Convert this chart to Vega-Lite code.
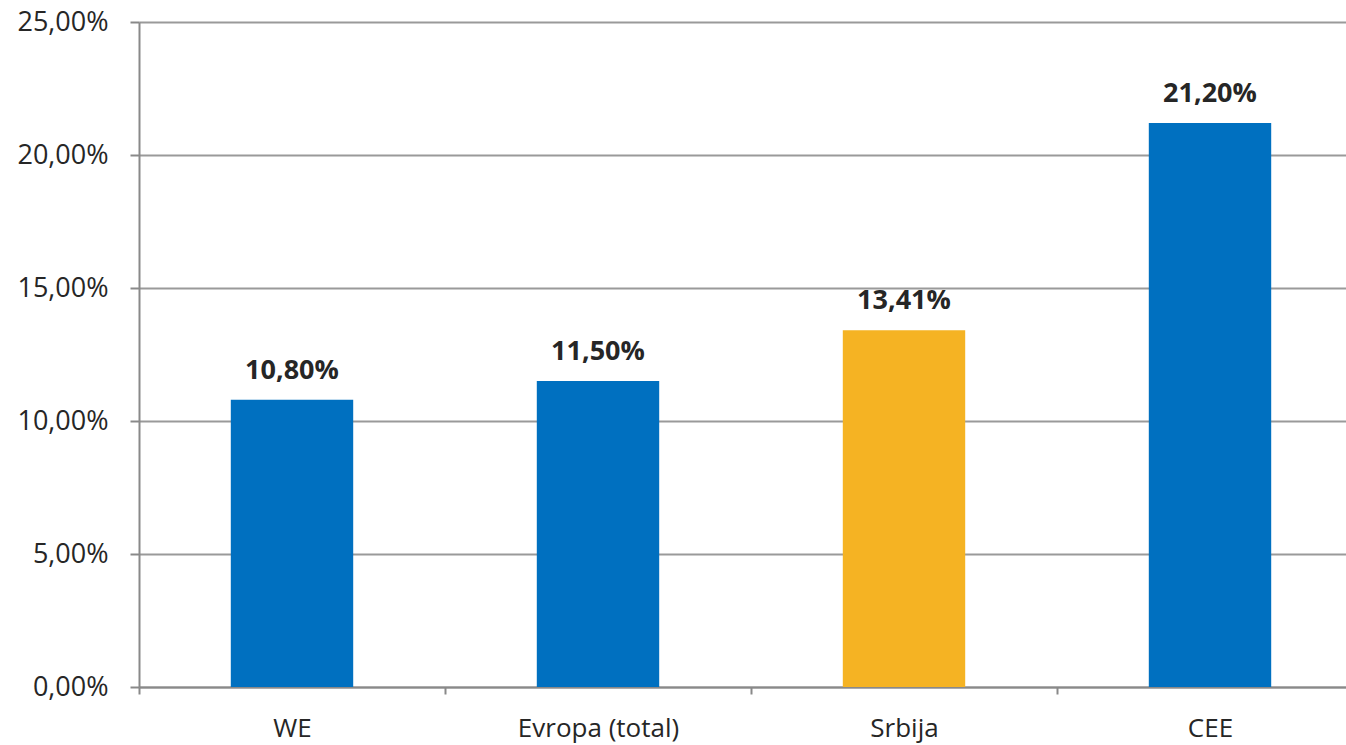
{
  "$schema": "https://vega.github.io/schema/vega-lite/v6.json",
  "autosize": {"type": "none"},
  "padding": {"left": 139, "top": 22, "right": 0, "bottom": 58},
  "width": 1207,
  "height": 665,
  "background": "white",
  "config": {
    "locale": {"number": {"decimal": ",", "thousands": ".", "grouping": [3], "currency": ["", ""]}},
    "view": {"stroke": null},
    "font": "Open Sans"
  },
  "data": {
    "values": [
      {"region": "WE", "value": 0.108, "highlight": "no"},
      {"region": "Evropa (total)", "value": 0.115, "highlight": "no"},
      {"region": "Srbija", "value": 0.1341, "highlight": "yes"},
      {"region": "CEE", "value": 0.212, "highlight": "no"}
    ]
  },
  "encoding": {
    "x": {
      "field": "region",
      "type": "nominal",
      "sort": null,
      "scale": {"range": [0, 1224], "paddingInner": 0, "paddingOuter": 0},
      "axis": {
        "title": null,
        "labelAngle": 0,
        "labelFont": "Open Sans",
        "labelFontSize": 26,
        "labelColor": "#262626",
        "labelPadding": 21,
        "domainColor": "#898989",
        "domainWidth": 2,
        "tickColor": "#898989",
        "tickWidth": 2,
        "tickSize": 7,
        "tickBand": "extent",
        "grid": false
      }
    },
    "y": {
      "field": "value",
      "type": "quantitative",
      "scale": {"domain": [0, 0.25], "nice": false},
      "axis": {
        "title": null,
        "format": ".2%",
        "values": [0, 0.05, 0.1, 0.15, 0.2, 0.25],
        "labelFont": "Open Sans",
        "labelFontSize": 27,
        "labelColor": "#262626",
        "labelPadding": 22,
        "domainColor": "#898989",
        "domainWidth": 2,
        "tickColor": "#898989",
        "tickWidth": 2,
        "tickSize": 9,
        "grid": true,
        "gridColor": "#9a9a9a",
        "gridWidth": 2
      }
    }
  },
  "layer": [
    {
      "mark": {"type": "bar", "width": {"band": 0.4}},
      "encoding": {
        "color": {
          "field": "highlight",
          "type": "nominal",
          "scale": {"domain": ["no", "yes"], "range": ["#0070C0", "#F5B323"]},
          "legend": null
        }
      }
    },
    {
      "mark": {"type": "text", "baseline": "alphabetic", "dy": -21, "fontSize": 27, "fontWeight": "bold", "color": "#262626", "font": "Open Sans"},
      "encoding": {
        "text": {"field": "value", "type": "quantitative", "format": ".2%"}
      }
    }
  ]
}
